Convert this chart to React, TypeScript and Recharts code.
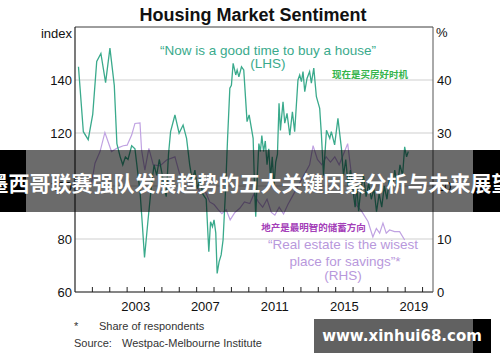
import React from 'react';
import { LineChart, Line, XAxis, YAxis, CartesianGrid, ReferenceLine } from 'recharts';

// "Now is a good time to buy a house" index (LHS)
const buyYears = [
  2000.2, 2000.48, 2000.76, 2001.02, 2001.25, 2001.49, 2001.76, 2002.01, 2002.26, 2002.41,
  2002.6, 2002.75, 2002.9, 2003.05, 2003.26, 2003.45, 2003.74, 2003.87, 2004.0, 2004.2,
  2004.41, 2004.55, 2004.7, 2004.85, 2005.0, 2005.15, 2005.25, 2005.38, 2005.5, 2005.75,
  2005.99, 2006.22, 2006.42, 2006.6, 2006.75, 2006.9, 2007.05, 2007.2, 2007.35, 2007.55,
  2007.7, 2007.8, 2007.91, 2008.0, 2008.1, 2008.18, 2008.29, 2008.41, 2008.52, 2008.66,
  2008.78, 2008.91, 2009.0, 2009.1, 2009.25, 2009.33, 2009.43, 2009.58, 2009.71, 2009.9,
  2010.02, 2010.25, 2010.33, 2010.4, 2010.5, 2010.58, 2010.67, 2010.75, 2010.85, 2010.95,
  2011.05, 2011.15, 2011.25, 2011.35, 2011.45, 2011.55, 2011.65, 2011.74, 2011.82, 2011.97,
  2012.07, 2012.2, 2012.36, 2012.51, 2012.64, 2012.83, 2012.93, 2013.03, 2013.12, 2013.22,
  2013.35, 2013.5, 2013.6, 2013.74, 2013.89, 2014.08, 2014.18, 2014.3, 2014.47, 2014.66,
  2014.75, 2014.94, 2015.13, 2015.33, 2015.45, 2015.58, 2015.72, 2015.85, 2016.0, 2016.12,
  2016.22, 2016.32, 2016.45, 2016.6, 2016.75, 2016.9, 2017.05, 2017.2, 2017.35, 2017.5,
  2017.65, 2017.8, 2017.95, 2018.1, 2018.25, 2018.4, 2018.55, 2018.7, 2018.85, 2018.97,
  2019.08, 2019.18,
];
const buyIndex = [
  145, 120.5, 117.5, 127, 147, 150, 139, 152, 138, 116,
  111, 108, 111, 110, 115.2, 114, 98, 86, 73, 87,
  101, 108, 104, 110, 105, 99, 96, 112, 120.5, 126.8,
  119.9, 123, 118, 108, 102, 106, 99, 103, 97, 95,
  75.2, 86.5, 84.6, 87.2, 82.3, 67, 71.4, 74, 79.6, 98,
  118, 136.9, 138, 146.3, 141.9, 143.8, 141.2, 145, 143.8, 124.3,
  126.8, 118, 100, 88.4, 105, 116, 113, 119, 113, 117,
  108, 114, 103, 111, 100, 109, 112, 131.2, 121, 131.8,
  123.7, 127.4, 119.2, 128, 120.5, 140, 141.9, 139.4, 143.2, 135.6,
  140.6, 143.2, 138.8, 144.5, 133.7, 129.3, 119.2, 104, 121, 118,
  120.5, 115.5, 125.5, 114.2, 104, 110, 100, 106, 98, 92,
  100, 90.5, 99, 104, 96, 101, 95, 99, 90.3, 97,
  92, 100, 95, 103, 98, 106, 100, 108, 104, 114.8,
  111, 113,
];

// "Real estate is the wisest place for savings" share, % (RHS)
const savingsYears = [
  2000.95, 2001.15, 2001.44, 2001.72, 2002.1, 2002.4, 2002.78, 2003.0, 2003.26, 2003.45,
  2003.74, 2003.83, 2004.02, 2004.25, 2004.5, 2004.89, 2005.27, 2005.75, 2006.0, 2006.25,
  2006.5, 2006.75, 2007.0, 2007.25, 2007.5, 2007.75, 2008.0, 2008.25, 2008.45, 2008.7,
  2008.93, 2009.2, 2009.48, 2009.75, 2010.06, 2010.3, 2010.55, 2010.8, 2011.05, 2011.3,
  2011.5, 2011.75, 2012.0, 2012.25, 2012.5, 2012.75, 2013.0, 2013.25, 2013.5, 2013.7,
  2013.95, 2014.2, 2014.45, 2014.7, 2014.95, 2015.2, 2015.45, 2015.69, 2015.95, 2016.19,
  2016.48, 2016.86, 2017.14, 2017.34, 2017.53, 2017.72, 2017.91, 2018.1, 2018.39, 2018.68,
  2018.97,
];
const savingsShare = [
  20.5, 24.3, 26.5, 30.1, 26.5, 27.1, 27.6, 27.7, 29.6, 31.8,
  31.9, 26.8, 23, 27.1, 24, 23.8, 24.9, 25.5, 22.5, 21,
  21.5, 19.5, 20, 18.5, 19, 17, 16.5, 15.5, 14.8, 15.5,
  13.6, 15, 15.8, 17, 16.7, 18.5, 17, 16, 17.5, 15,
  14.5, 16, 14.7, 16.5, 18, 19.5, 21, 22.5, 24, 27.6,
  25, 24, 25.5, 24.5, 25.5, 24, 26, 28, 21, 16.4,
  15.3, 13.3, 10.4, 12, 11.1, 13, 11.1, 11.7, 11.4, 11.4,
  9.8,
];

const yearTicks = [2001, 2002, 2003, 2004, 2005, 2006, 2007, 2008, 2009, 2010,
  2011, 2012, 2013, 2014, 2015, 2016, 2017, 2018, 2019, 2020];
const yearLabels = [2003, 2007, 2011, 2015, 2019];
const leftTicks = [60, 80, 100, 120, 140, 160];
const rightTicks = [0, 10, 20, 30, 40, 50];

const buyData = buyYears.map((x, i) => ({ x, v: buyIndex[i] }));
const savingsData = savingsYears.map((x, i) => ({ x, v: savingsShare[i] }));

const GREEN = '#3aaa8c';
const PURPLE = '#c0a2e2';
const FONT = '"Liberation Sans", Arial, sans-serif';
const CJK = '"Noto Sans CJK SC", sans-serif';

// integer years get a small inward tick, half years carry the label
const YearTick = (props: any) => {
  const { x, y, payload } = props;
  const v = payload.value;
  if (Number.isInteger(v)) {
    return <line x1={x} x2={x} y1={y} y2={y - 5} stroke="#222" strokeWidth={1} />;
  }
  return (
    <text x={x} y={y + 19} textAnchor="middle" fontSize={13} fill="#111">
      {Math.floor(v)}
    </text>
  );
};

const abs = (left: number, top: number, extra: React.CSSProperties = {}): React.CSSProperties => ({
  position: 'absolute',
  left,
  top,
  whiteSpace: 'nowrap',
  ...extra,
});

export default function App() {
  return (
    <div style={{ position: 'fixed', left: 0, top: 0, width: 500, height: 362, background: '#fff', fontFamily: FONT, overflow: 'hidden' }}>
      <LineChart width={500} height={362} margin={{ top: 27, right: 27, bottom: 46, left: 35 }}>
        <CartesianGrid yAxisId="left" horizontal vertical={false} stroke="#cfcfcf" />
        <XAxis
          dataKey="x"
          type="number"
          domain={[2000, 2020.6]}
          ticks={[...yearTicks, ...yearLabels.map((y) => y + 0.5)]}
          interval={0}
          tick={<YearTick />}
          tickLine={false}
          tickSize={0}
          tickMargin={0}
          height={24}
          axisLine={{ stroke: '#222', strokeWidth: 1.2 }}
        />
        <YAxis
          yAxisId="left"
          domain={[60, 160]}
          ticks={leftTicks}
          tickFormatter={(v: number) => (v === 160 ? '' : String(v))}
          width={40}
          tickLine={false}
          tickSize={0}
          tickMargin={3}
          tick={{ fontSize: 13, fill: '#111' }}
          axisLine={{ stroke: '#222', strokeWidth: 1.2 }}
        />
        <YAxis
          yAxisId="right"
          orientation="right"
          domain={[0, 50]}
          ticks={rightTicks}
          tickFormatter={(v: number) => (v === 50 ? '' : String(v))}
          width={40}
          tickLine={false}
          tickSize={0}
          tickMargin={4}
          tick={{ fontSize: 13, fill: '#111', textAnchor: 'start' }}
          axisLine={{ stroke: '#555', strokeWidth: 1 }}
        />
        <ReferenceLine yAxisId="left" y={160} stroke="#555" strokeWidth={1} />
        <Line
          yAxisId="right"
          data={savingsData}
          dataKey="v"
          type="linear"
          stroke={PURPLE}
          strokeWidth={1.2}
          dot={false}
          isAnimationActive={false}
        />
        <Line
          yAxisId="left"
          data={buyData}
          dataKey="v"
          type="linear"
          stroke={GREEN}
          strokeWidth={1.3}
          dot={false}
          isAnimationActive={false}
        />
      </LineChart>

      <div style={abs(0, 5, { width: 506, textAlign: 'center', fontSize: 18, fontWeight: 'bold', lineHeight: '20px', color: '#111' })}>
        Housing Market Sentiment
      </div>
      <div style={abs(0, 26, { width: 72, textAlign: 'right', fontSize: 13, lineHeight: '16px', color: '#111' })}>index</div>
      <div style={abs(436, 25, { fontSize: 13, lineHeight: '16px', color: '#111' })}>%</div>

      <div style={abs(0, 43.5, { width: 536, textAlign: 'center', fontSize: 13.5, lineHeight: '13px', color: GREEN })}>
        {'\u201CNow is a good time to buy a house\u201D'}
      </div>
      <div style={abs(0, 56.5, { width: 536, textAlign: 'center', fontSize: 13.5, lineHeight: '13px', color: GREEN })}>(LHS)</div>
      <div style={abs(0, 68, { width: 740, textAlign: 'center', fontSize: 9.5, fontWeight: 'bold', lineHeight: '12px', color: '#35b44c', fontFamily: CJK })}>
        现在是买房好时机
      </div>

      <div style={abs(0, 220.5, { width: 627, textAlign: 'center', fontSize: 9.5, fontWeight: 'bold', lineHeight: '12px', color: '#a440b8', fontFamily: CJK })}>
        地产是最明智的储蓄方向
      </div>
      <div style={abs(0, 237.5, { width: 686, textAlign: 'center', fontSize: 13.5, lineHeight: '14px', color: '#b898dc' })}>
        {'\u201CReal estate is the wisest'}
      </div>
      <div style={abs(0, 254.5, { width: 690, textAlign: 'center', fontSize: 13.5, lineHeight: '14px', color: '#b898dc' })}>
        {'place for savings\u201D*'}
      </div>
      <div style={abs(0, 268.7, { width: 686, textAlign: 'center', fontSize: 13.5, lineHeight: '14px', color: '#b898dc' })}>(RHS)</div>

      <div style={abs(74, 319, { fontSize: 11, lineHeight: '14px', color: '#333' })}>*</div>
      <div style={abs(99, 319, { fontSize: 11, lineHeight: '14px', color: '#333' })}>Share of respondents</div>
      <div style={abs(74, 336, { fontSize: 11, lineHeight: '14px', color: '#333' })}>Source:</div>
      <div style={abs(122, 336, { fontSize: 11, lineHeight: '14px', color: '#333' })}>Westpac-Melbourne Institute</div>

      {/* overlay banner */}
      <div style={abs(0, 150, { width: 500, height: 62, background: 'rgba(0,0,0,0.58)' })} />
      <div style={abs(0, 150, { width: 26, height: 62, background: '#000' })} />
      <div style={abs(473, 150, { width: 27, height: 62, background: '#000' })} />
      <div style={abs(-20, 168, { width: 540, textAlign: 'center', fontSize: 21, fontWeight: 'bold', lineHeight: '28px', color: '#fff', fontFamily: CJK })}>
        墨西哥联赛强队发展趋势的五大关键因素分析与未来展望
      </div>

      {/* watermark */}
      <div style={abs(314, 319, { width: 159, height: 34, background: 'rgba(0,0,0,0.62)' })} />
      <div style={abs(473, 319, { width: 18, height: 34, background: '#000' })} />
      <div style={abs(314, 319, { width: 176, height: 34, textAlign: 'center', fontSize: 15, fontWeight: 'bold', lineHeight: '34px', color: '#fff', fontFamily: '"DejaVu Sans", sans-serif' })}>
        www.xinhui68.com
      </div>
    </div>
  );
}
